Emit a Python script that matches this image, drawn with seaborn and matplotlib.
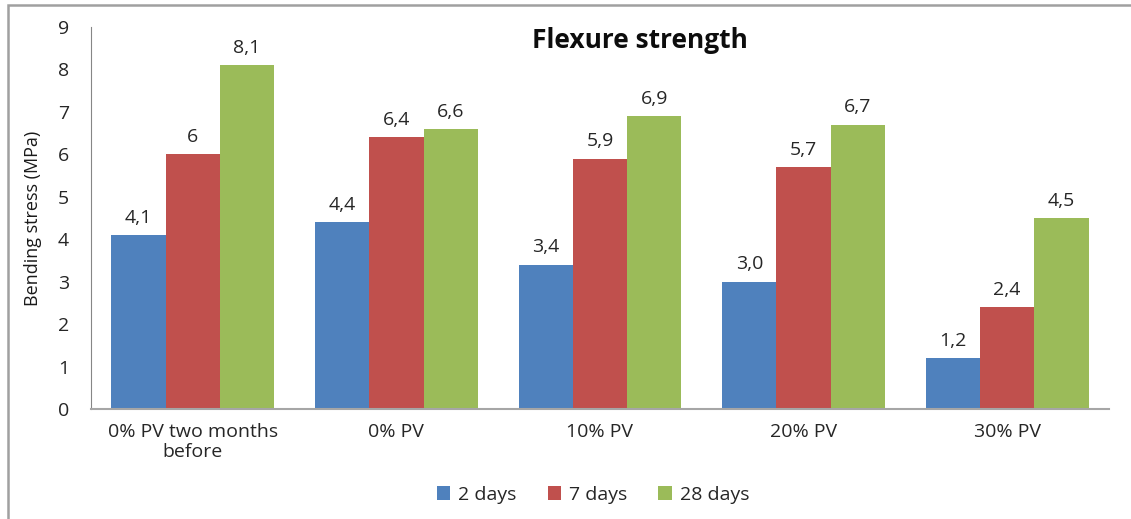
import pandas as pd
import seaborn as sns
import matplotlib.pyplot as plt
from matplotlib.patches import Rectangle

# Data
categories = ["0% PV two months\nbefore", "0% PV", "10% PV", "20% PV", "30% PV"]
days_2 = [4.1, 4.4, 3.4, 3.0, 1.2]
days_7 = [6.0, 6.4, 5.9, 5.7, 2.4]
days_28 = [8.1, 6.6, 6.9, 6.7, 4.5]
labels_2 = ["4,1", "4,4", "3,4", "3,0", "1,2"]
labels_7 = ["6", "6,4", "5,9", "5,7", "2,4"]
labels_28 = ["8,1", "6,6", "6,9", "6,7", "4,5"]
series = ["2 days", "7 days", "28 days"]

# Long-form table for seaborn
rows = []
for name, vals in zip(series, [days_2, days_7, days_28]):
    for cat, v in zip(categories, vals):
        rows.append({"Sample": cat, "Age": name, "Stress": v})
df = pd.DataFrame(rows)

sns.set_style("white")
plt.rcParams["font.family"] = ["Open Sans", "DejaVu Sans"]

colors = {"2 days": "#4F81BD", "7 days": "#C0504D", "28 days": "#9BBB59"}

fig = plt.figure(figsize=(11.31, 5.19), dpi=100)
ax = fig.add_axes([0.0805, 0.212, 0.90, 0.736])

sns.barplot(data=df, x="Sample", y="Stress", hue="Age", palette=colors,
            width=0.8, saturation=1, linewidth=0, ax=ax, legend=True)

# Value labels above bars
for cont, labs in zip(ax.containers, [labels_2, labels_7, labels_28]):
    ax.bar_label(cont, labels=labs, padding=6, fontsize=14, color="#262626")

ax.set_ylim(0, 9)
ax.set_yticks(range(0, 10))
ax.set_xlim(-0.5, 4.5)
ax.set_xlabel("")
ax.set_ylabel("Bending stress (MPa)", fontsize=13, color="#1a1a1a", labelpad=11)
ax.tick_params(axis="both", length=0, labelsize=14, colors="#262626")
ax.tick_params(axis="y", pad=16)
ax.tick_params(axis="x", pad=10)
for t in ax.get_xticklabels():
    t.set_linespacing(1.15)

for s in ["top", "right"]:
    ax.spines[s].set_visible(False)
ax.spines["left"].set_color("#868686")
ax.spines["bottom"].set_color("#a6a6a6")
ax.spines["bottom"].set_linewidth(1.5)

# Title placed like the original (inside plot, off-center)
fig.text(640 / 1131, 1 - 40 / 519, "Flexure strength", ha="center", va="center",
         fontsize=19, fontweight="bold", color="#0d0d0d")

# Legend at bottom
leg = ax.legend(loc="center", bbox_to_anchor=(593 / 1131, 1 - 495 / 519),
                bbox_transform=fig.transFigure, ncol=3, frameon=False,
                fontsize=14, handlelength=0.7, handleheight=0.7,
                columnspacing=1.6, handletextpad=0.4, title=None)

# Outer chart border
fig.patches.append(Rectangle((8 / 1131, -0.05), 1.2, 1 - 5 / 519 + 0.05,
                             transform=fig.transFigure, fill=False,
                             edgecolor="#a0a0a0", linewidth=1.8))

fig.savefig("out.png", dpi=100)
